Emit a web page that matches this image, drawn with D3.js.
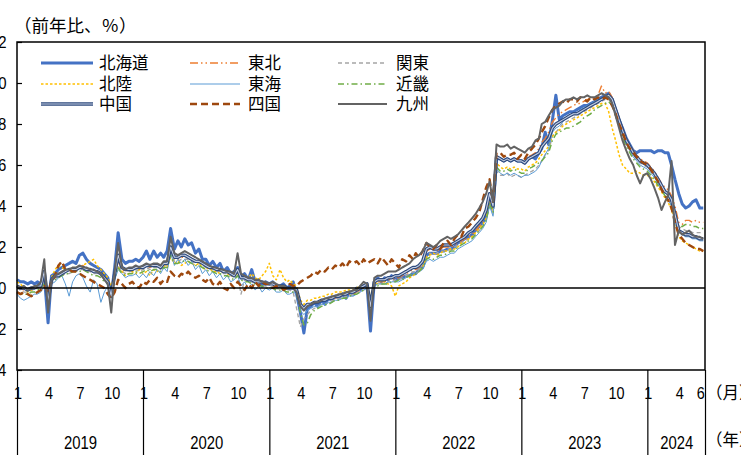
<!DOCTYPE html>
<html>
<head>
<meta charset="utf-8">
<script src="https://cdn.jsdelivr.net/npm/d3@7/dist/d3.min.js"></script>
<style>
  html, body { margin: 0; padding: 0; background: #fff; }
  svg { display: block; }
</style>
</head>
<body>
<svg id="chart" width="741" height="465"></svg>
<script>
// Regional price index, year-on-year change (%), sampled on the 1st, 11th and 21st of each month
const regionNames = ["北海道", "東北", "関東", "北陸", "東海", "近畿", "中国", "四国", "九州"];

const hokkaido = [
  0.4,0.3,0.3, 0.2,0.3,0.2, 0.3,0.2,0.6, -1.7,0.6,0.7, 0.9,1.0,1.1, 1.2,1.3,1.2, 1.6,1.7,1.4, 1.2,1.1,1.0, 0.9,0.7,0.5, -0.4,1.0,2.7, 1.4,1.2,1.3, 1.3,1.4,1.3,
  1.5,1.8,1.4, 1.8,1.5,1.7, 1.5,1.8,2.9, 1.9,2.3,2.0, 2.4,2.1,2.2, 1.7,1.9,1.4, 1.4,1.1,1.3, 1.0,1.2,0.8, 1.0,0.7,0.8, 1.0,0.5,0.7, 0.4,0.9,0.3, 0.4,0.1,0.3,
  0.2,0.3,0.1, 0.1,0.2,0.0, 0.1,0.3,-0.3, -1.2,-2.2,-1.0, -0.9,-0.7,-0.9, -0.6,-0.8,-0.5, -0.6,-0.4,-0.5, -0.3,-0.5,-0.2, -0.3,0.0,-0.1, 0.1,0.1,-2.1, 0.3,0.5,0.3, 0.5,0.4,0.6,
  0.4,0.5,0.5, 0.6,0.6,0.7, 0.7,0.9,1.0, 1.6,1.7,1.7, 1.7,1.8,1.8, 1.9,1.9,2.0, 2.2,2.3,2.4, 2.5,2.6,2.8, 3.0,3.2,3.5, 4.4,3.9,6.3, 6.3,6.2,6.3, 6.2,6.3,6.2,
  6.2,6.1,6.3, 6.4,6.3,6.6, 6.8,7.6,7.0, 8.2,9.4,8.2, 8.4,8.5,8.6, 8.6,8.7,8.8, 8.9,8.9,9.0, 9.1,9.2,9.3, 9.4,9.5,9.2, 8.7,8.2,7.8, 7.3,7.0,6.7, 6.6,6.7,6.7,
  6.7,6.7,6.6, 6.7,6.7,6.6, 6.6,6.0,5.3, 4.6,4.1,3.9, 4.0,4.2,4.3, 3.9,3.9
];
const tohoku = [
  0.1,0.0,-0.1, -0.1,0.0,0.0, 0.1,0.1,0.4, -0.4,0.4,0.5, 0.7,0.8,0.8, 0.9,0.9,1.0, 1.0,1.1,0.9, 0.9,0.8,0.8, 0.7,0.5,0.3, -0.3,0.6,1.3, 0.9,0.8,0.9, 0.9,1.0,0.9,
  1.0,1.1,1.0, 1.1,1.1,1.0, 1.2,1.2,1.9, 1.4,1.4,1.5, 1.5,1.5,1.4, 1.3,1.3,1.2, 1.1,1.0,1.0, 0.9,0.9,0.8, 0.8,0.7,0.6, 0.8,0.5,0.5, 0.4,0.4,0.3, 0.3,0.3,0.2,
  0.2,0.2,0.1, 0.1,0.1,0.0, 0.0,0.0,0.0, -0.8,-1.0,-0.8, -0.8,-0.7,-0.7, -0.6,-0.6,-0.5, -0.5,-0.5,-0.4, -0.4,-0.3,-0.3, -0.3,-0.2,-0.1, 0.0,0.1,-0.8, 0.2,0.3,0.3, 0.3,0.4,0.4,
  0.5,0.5,0.6, 0.7,0.8,0.9, 0.9,1.0,1.2, 1.8,1.9,1.9, 1.8,1.9,2.0, 2.0,2.0,2.1, 2.2,2.3,2.4, 2.5,2.6,2.8, 3.0,3.3,3.7, 4.6,4.0,6.4, 6.3,6.2,6.3, 6.2,6.3,6.2,
  6.2,6.2,6.4, 6.5,6.6,6.8, 7.1,7.3,7.6, 8.1,8.3,8.5, 8.6,8.7,8.8, 8.9,9.0,9.0, 9.1,9.2,9.2, 9.3,9.4,9.85, 9.5,9.6,9.3, 8.8,8.3,7.8, 7.3,7.0,6.7, 6.5,6.3,6.2,
  6.1,5.9,5.7, 5.4,5.1,4.9, 4.8,4.5,4.0, 3.2,3.1,3.3, 3.3,3.2,3.3, 3.2,3.2
];
const kanto = [
  0.0,-0.1,-0.2, -0.2,-0.1,-0.1, 0.0,0.1,0.3, -0.3,0.3,0.4, 0.6,0.6,0.7, 0.7,0.8,0.8, 0.9,0.9,0.8, 0.8,0.7,0.7, 0.6,0.4,0.2, -0.2,0.5,1.1, 0.8,0.7,0.8, 0.8,0.9,0.8,
  0.9,1.0,0.9, 1.0,1.0,0.9, 1.1,1.1,1.7, 1.3,1.3,1.4, 1.4,1.4,1.3, 1.2,1.2,1.1, 1.0,0.9,0.9, 0.8,0.8,0.7, 0.7,0.6,0.5, 0.6,-0.3,0.4, 0.3,0.3,0.2, 0.2,0.1,0.1,
  0.0,0.1,0.0, -0.1,0.0,-0.1, -0.1,-0.2,-1.0, -1.9,-1.5,-1.3, -1.1,-1.0,-0.9, -0.8,-0.8,-0.7, -0.6,-0.6,-0.5, -0.5,-0.4,-0.4, -0.3,-0.2,-0.2, -0.1,0.0,-0.7, 0.1,0.2,0.2, 0.2,0.3,0.3,
  0.4,0.4,0.5, 0.6,0.7,0.8, 0.8,0.9,1.1, 1.6,1.7,1.6, 1.7,1.8,1.8, 1.9,1.9,2.0, 2.1,2.2,2.3, 2.4,2.5,2.6, 2.8,3.0,3.3, 4.1,3.6,5.7, 5.5,5.5,5.6, 5.4,5.5,5.5,
  5.4,5.5,5.6, 5.7,5.8,6.0, 6.2,6.5,6.7, 7.4,7.6,7.8, 8.0,8.1,8.2, 8.3,8.4,8.5, 8.6,8.7,8.8, 8.9,9.0,9.1, 9.2,9.2,9.0, 8.5,8.0,7.6, 7.1,6.8,6.5, 6.3,6.1,6.0,
  5.9,5.7,5.5, 5.2,4.9,4.7, 4.5,4.2,3.7, 3.0,2.9,2.8, 2.8,2.7,2.7, 2.7,2.7
];
const hokuriku = [
  0.3,0.2,0.0, -0.2,-0.1,0.0, 0.1,0.2,0.5, -0.2,0.5,0.9, 1.1,1.0,0.9, 0.8,1.0,0.9, 1.0,1.1,1.2, 1.3,1.4,1.1, 0.9,0.7,0.5, 0.1,0.7,1.0, 0.8,0.6,0.7, 0.8,0.7,0.9,
  0.7,0.8,0.6, 0.9,0.8,1.0, 1.1,1.0,1.5, 1.2,1.3,1.1, 1.2,1.3,1.2, 1.1,1.2,1.0, 0.9,1.0,0.8, 0.8,0.7,0.9, 0.7,0.6,0.6, 0.7,0.5,0.6, 0.5,0.7,0.5, 0.4,0.6,0.8,
  1.2,0.6,0.4, 0.9,0.5,0.3, 0.4,0.2,0.1, -0.6,-0.8,-0.6, -0.6,-0.5,-0.5, -0.4,-0.4,-0.3, -0.3,-0.2,-0.2, -0.2,-0.1,-0.1, -0.1,0.0,0.1, 0.2,0.1,-0.4, 0.3,0.2,0.4, 0.3,0.2,0.1,
  -0.4,0.1,0.2, 0.3,0.5,0.6, 0.7,0.8,1.0, 1.5,1.6,1.7, 1.6,1.7,1.8, 1.8,1.9,1.9, 2.0,2.2,2.2, 2.4,2.5,2.7, 2.9,3.1,3.4, 4.3,3.8,6.1, 5.9,5.8,5.9, 5.8,5.9,5.8,
  5.8,5.7,5.9, 6.0,6.1,6.3, 6.5,6.7,6.9, 7.4,7.6,7.7, 7.9,8.0,8.1, 8.2,8.3,8.4, 8.5,8.6,8.7, 8.8,8.9,9.0, 9.0,8.6,7.8, 7.2,6.5,6.0, 5.8,5.6,5.6, 5.7,5.6,5.5,
  5.5,5.4,5.2, 4.9,4.7,4.4, 4.2,3.8,3.3, 2.5,2.3,2.2, 2.1,2.0,1.9, 1.8,1.8
];
const tokai = [
  -0.3,-0.5,-0.6, -0.5,-0.4,-0.3, -0.3,-0.2,0.1, -0.6,0.2,0.3, 0.5,0.6,0.2, -0.4,0.3,0.6, 0.7,0.5,0.1, -0.2,0.4,0.2, -0.7,-0.2,0.1, -0.5,0.4,0.9, 0.7,0.5,0.6, 0.6,0.7,0.5,
  0.7,0.5,0.8, 0.6,0.9,0.7, 1.0,0.8,1.7, 1.1,1.4,1.2, 1.4,1.1,1.3, 0.9,1.1,0.7, 0.9,0.6,0.8, 0.5,0.7,0.4, 0.6,0.3,0.4, 0.6,0.1,0.3, 0.0,0.2,-0.1, 0.1,-0.2,0.0,
  -0.1,0.0,-0.2, -0.2,-0.1,-0.3, -0.3,-0.2,-0.3, -1.1,-1.3,-1.1, -1.0,-0.9,-0.9, -0.8,-0.8,-0.7, -0.7,-0.6,-0.6, -0.5,-0.5,-0.4, -0.4,-0.3,-0.2, -0.1,0.0,-0.8, 0.1,0.2,0.2, 0.2,0.3,0.3,
  0.3,0.3,0.4, 0.5,0.6,0.7, 0.7,0.8,0.9, 1.3,1.4,1.3, 1.4,1.5,1.5, 1.6,1.7,1.7, 1.9,2.0,2.1, 2.2,2.3,2.5, 2.7,2.9,3.2, 4.0,3.5,5.8, 5.6,5.5,5.6, 5.5,5.6,5.5,
  5.4,5.5,5.5, 5.6,5.7,5.9, 6.2,6.5,6.8, 7.6,7.8,7.9, 8.1,8.3,8.4, 8.5,8.5,8.7, 8.8,8.9,9.0, 9.1,9.2,9.2, 9.3,9.4,9.1, 8.6,8.0,7.5, 7.0,6.7,6.4, 6.2,6.0,5.9,
  5.8,5.6,5.4, 5.1,4.8,4.5, 4.3,4.0,3.4, 2.7,2.6,2.5, 2.5,2.4,2.4, 2.3,2.3
];
const kinki = [
  -0.2,-0.3,-0.3, -0.3,-0.2,-0.2, -0.1,0.0,0.2, -0.4,0.3,0.4, 0.5,0.6,0.7, 0.7,0.8,0.8, 0.8,0.9,0.8, 0.7,0.6,0.6, 0.5,0.3,0.2, -0.3,0.5,1.0, 0.7,0.6,0.7, 0.7,0.8,0.7,
  0.8,0.9,0.8, 0.9,0.9,0.8, 1.0,1.0,1.6, 1.2,1.2,1.3, 1.3,1.3,1.2, 1.1,1.1,1.0, 0.9,0.8,0.8, 0.7,0.7,0.6, 0.6,0.5,0.4, 0.6,0.4,0.3, 0.3,0.2,0.2, 0.1,0.1,0.0,
  0.0,0.0,-0.1, -0.1,-0.1,-0.2, -0.2,-0.2,-0.3, -1.2,-1.8,-1.7, -1.3,-1.1,-1.0, -0.9,-0.8,-0.8, -0.7,-0.6,-0.6, -0.5,-0.5,-0.4, -0.3,-0.3,-0.2, -0.1,0.0,-0.7, 0.1,0.1,0.2, 0.2,0.2,0.3,
  0.3,0.4,0.4, 0.5,0.6,0.7, 0.7,0.8,1.0, 1.4,1.5,1.4, 1.5,1.6,1.6, 1.7,1.8,1.8, 2.0,2.1,2.2, 2.3,2.4,2.6, 2.8,3.0,3.3, 4.1,3.7,5.9, 5.7,5.7,5.8, 5.7,5.8,5.7,
  5.6,5.6,5.8, 5.9,6.0,6.1, 6.2,6.4,6.6, 7.2,7.5,7.6, 7.7,7.8,7.8, 7.9,8.0,8.1, 8.3,8.4,8.5, 8.7,8.8,8.9, 9.0,9.1,8.9, 8.4,7.9,7.4, 6.9,6.6,6.3, 6.1,5.9,5.8,
  5.7,5.5,5.3, 5.0,4.8,4.5, 4.3,4.1,3.6, 3.0,3.0,3.1, 3.1,3.0,3.0, 2.9,2.9
];
const chugoku = [
  0.1,0.0,0.0, -0.1,0.0,0.0, 0.1,0.1,0.8, -0.6,0.4,0.6, 0.6,0.7,0.8, 0.9,0.9,0.9, 1.0,1.0,0.9, 0.9,0.8,0.8, 0.7,0.5,0.3, -0.4,0.7,1.6, 1.0,0.9,0.9, 0.9,1.0,1.0,
  1.0,1.1,1.1, 1.1,1.1,1.0, 1.2,1.2,2.0, 1.5,1.5,1.6, 1.6,1.5,1.4, 1.3,1.3,1.2, 1.1,1.0,1.0, 0.9,0.9,0.8, 0.8,0.7,0.6, 0.9,0.5,0.5, 0.4,0.4,0.3, 0.3,0.3,0.2,
  0.2,0.2,0.1, 0.1,0.1,0.0, 0.0,0.0,-0.1, -0.8,-1.0,-0.8, -0.8,-0.7,-0.7, -0.6,-0.6,-0.5, -0.5,-0.4,-0.4, -0.3,-0.3,-0.2, -0.2,-0.1,0.0, 0.1,0.2,-0.9, 0.3,0.4,0.4, 0.4,0.5,0.5,
  0.6,0.6,0.7, 0.8,0.9,1.0, 1.0,1.1,1.3, 1.9,2.0,1.9, 1.9,2.0,2.1, 2.1,2.1,2.2, 2.3,2.4,2.5, 2.7,2.8,3.0, 3.2,3.4,3.8, 4.6,4.0,6.4, 6.3,6.2,6.3, 6.2,6.3,6.2,
  6.2,6.1,6.3, 6.4,6.5,6.6, 6.9,7.1,7.3, 7.8,8.0,8.1, 8.2,8.3,8.4, 8.5,8.5,8.6, 8.7,8.8,8.9, 9.0,9.1,9.2, 9.3,9.4,9.2, 8.7,8.2,7.7, 7.2,6.9,6.6, 6.4,6.2,6.1,
  6.0,5.8,5.6, 5.3,5.0,4.7, 4.6,4.3,3.6, 2.8,2.7,2.6, 2.6,2.5,2.5, 2.4,2.4
];
const shikoku = [
  -0.2,-0.3,-0.2, -0.3,-0.4,-0.3, -0.2,-0.1,0.1, -0.2,0.3,0.6, 1.1,1.3,0.9, 0.9,0.8,0.8, 0.7,0.6,0.5, 0.4,0.3,0.2, 0.1,0.0,-0.3, -0.5,-0.2,0.4, 0.2,0.0,0.2, 0.3,0.1,0.0,
  0.3,0.2,0.4, 0.3,0.5,0.2, 0.4,0.3,0.8, 0.6,0.5,0.7, 0.6,0.8,0.6, 0.5,0.6,0.4, 0.3,0.5,0.2, 0.1,0.3,0.0, -0.1,0.2,0.0, 0.3,0.1,-0.1, 0.2,0.0,0.3, 0.1,0.3,0.2,
  0.2,0.0,0.1, 0.1,-0.1,0.0, 0.2,0.1,0.1, 0.3,0.4,0.5, 0.6,0.8,0.7, 0.9,0.8,1.0, 0.9,1.1,1.0, 1.2,1.0,1.3, 1.2,1.3,1.1, 1.4,1.2,1.3, 1.4,1.2,1.5, 1.3,1.1,1.4,
  1.2,1.0,1.4, 1.3,1.6,1.4, 1.7,1.5,1.8, 2.2,2.0,1.9, 2.1,1.9,2.2, 2.3,2.1,2.4, 2.6,2.5,2.9, 3.0,3.2,3.4, 3.7,4.3,4.9, 5.3,4.2,6.6, 6.6,6.4,6.5, 6.5,6.6,6.3,
  6.5,6.3,6.6, 6.8,7.0,7.3, 7.6,7.9,8.3, 8.7,8.9,9.0, 9.1,9.0,9.2, 9.2,9.1,9.3, 9.2,9.1,9.3, 9.2,9.3,9.2, 9.3,9.2,8.9, 8.5,8.0,7.6, 7.1,6.8,6.6, 6.4,6.2,6.1,
  6.0,5.8,5.5, 5.2,4.8,4.5, 4.3,3.9,3.2, 2.6,2.4,2.2, 2.1,2.0,1.9, 1.9,1.8
];
const kyushu = [
  0.1,0.0,0.1, -0.1,0.0,0.1, 0.1,0.3,1.4, -1.2,0.4,0.6, 0.7,0.8,0.9, 0.9,1.0,1.0, 1.1,1.0,1.0, 0.9,0.9,0.8, 0.7,0.4,0.2, -1.2,0.8,2.2, 1.0,0.9,1.0, 1.0,1.1,1.0,
  1.1,1.2,1.1, 1.2,1.2,1.1, 1.3,1.3,2.5, 1.7,1.6,1.7, 1.8,1.7,1.6, 1.5,1.4,1.3, 1.2,1.1,1.0, 1.0,0.9,0.9, 0.8,0.8,0.7, 1.7,0.7,0.6, 0.5,0.5,0.4, 0.4,0.3,0.3,
  0.2,0.3,0.2, 0.1,0.1,0.0, 0.0,0.0,-0.2, -0.9,-1.1,-0.9, -0.8,-0.7,-0.7, -0.6,-0.5,-0.5, -0.4,-0.4,-0.3, -0.3,-0.2,-0.2, -0.1,-0.1,0.1, 0.3,0.2,-1.6, 0.5,0.6,0.6, 0.7,0.8,0.8,
  0.8,0.9,1.0, 1.1,1.2,1.4, 1.5,1.6,1.8, 2.2,2.1,2.0, 2.1,2.3,2.4, 2.5,2.4,2.5, 2.6,2.8,3.0, 3.2,3.4,3.6, 3.9,4.2,4.6, 5.2,4.2,7.0, 6.9,6.9,7.0, 6.8,6.9,6.8,
  6.7,6.6,6.8, 6.9,7.2,7.3, 8.0,8.1,8.4, 8.7,8.8,8.9, 9.1,9.2,9.2, 9.3,9.2,9.3, 9.3,9.4,9.3, 9.3,9.4,9.5, 9.4,9.3,9.0, 8.4,7.8,7.2, 6.7,6.3,6.0, 5.5,5.1,5.5,
  5.6,5.3,4.9, 4.4,3.8,4.2, 4.5,6.2,2.1, 2.8,2.6,2.7, 2.8,2.6,2.5, 2.5,2.4
];

const seriesValues = [hokkaido, tohoku, kanto, hokuriku, tokai, kinki, chugoku, shikoku, kyushu];

// Axis labels
const yTickValues = [-4, -2, 0, 2, 4, 6, 8, 10, 12];
const monthTickLabels = [1, 4, 7, 10];
const yearLabels = ["2019", "2020", "2021", "2022", "2023", "2024"];
const monthUnitLabel = "（月）";
const yearUnitLabel = "（年）";
const titleText = "（前年比、％）";

// Sampling calendar
const sampleDays = [1, 11, 21];
const firstSample = new Date(2019, 0, 1);
const lastSample = new Date(2024, 5, 11);
const axisEnd = new Date(2024, 5, 16);

const dates = [];
for (let yr = 2019; yr <= 2024; yr++) {
  for (let mo = 0; mo < 12; mo++) {
    for (const d of sampleDays) {
      const dt = new Date(yr, mo, d);
      if (dt <= lastSample) dates.push(dt);
    }
  }
}

// Styles per region
const styles = [
  { color: "#4472C4", width: 3,   dash: null },
  { color: "#ED7D31", width: 1.4, dash: "8,3,1.5,3,1.5,3" },
  { color: "#A5A5A5", width: 1.4, dash: "4,3" },
  { color: "#FFC000", width: 1.5, dash: "2.5,2" },
  { color: "#5B9BD5", width: 1,   dash: null },
  { color: "#70AD47", width: 1.5, dash: "6,3,1.5,3" },
  { color: "#2E4A7D", width: 3.4, dash: null, inner: "#C5CFE3", innerWidth: 1.1 },
  { color: "#9E480E", width: 2.4, dash: "7,4" },
  { color: "#636363", width: 2,   dash: null }
];

const plot = { left: 17, right: 705, top: 42, bottom: 370 };
const numFont = "'Liberation Sans', Arial, sans-serif";
const cjkFont = "'Noto Sans CJK JP', 'Noto Sans', sans-serif";

const svg = d3.select("#chart");

const x = d3.scaleTime().domain([firstSample, axisEnd]).range([plot.left, plot.right]);
const y = d3.scaleLinear().domain([-4, 12]).range([plot.bottom, plot.top]);

// Series lines
const line = d3.line()
  .x((d, i) => x(dates[i]))
  .y(d => y(d));

const linesG = svg.append("g");
seriesValues.forEach((vals, k) => {
  const s = styles[k];
  linesG.append("path")
    .datum(vals)
    .attr("d", line)
    .attr("fill", "none")
    .attr("stroke", s.color)
    .attr("stroke-width", s.width)
    .attr("stroke-linejoin", "round")
    .attr("stroke-dasharray", s.dash);
  if (s.inner) {
    linesG.append("path")
      .datum(vals)
      .attr("d", line)
      .attr("fill", "none")
      .attr("stroke", s.inner)
      .attr("stroke-width", s.innerWidth)
      .attr("stroke-linejoin", "round");
  }
});

// Zero line
svg.append("line")
  .attr("x1", plot.left).attr("x2", plot.right)
  .attr("y1", y(0)).attr("y2", y(0))
  .attr("stroke", "#000").attr("stroke-width", 1.5);

// Plot frame
svg.append("rect")
  .attr("x", plot.left).attr("y", plot.top)
  .attr("width", plot.right - plot.left).attr("height", plot.bottom - plot.top)
  .attr("fill", "none").attr("stroke", "#000").attr("stroke-width", 1.5);

// Y axis (ticks pointing inward, labels to the left)
const yAxis = d3.axisLeft(y).tickValues(yTickValues).tickSize(-5).tickPadding(12).tickFormat(d3.format("d"));
const yG = svg.append("g").attr("transform", `translate(${plot.left},0)`).call(yAxis);
yG.select(".domain").remove();
yG.selectAll(".tick line").attr("stroke", "#000").attr("stroke-width", 1.2);
yG.selectAll(".tick text")
  .attr("font-family", numFont).attr("font-size", 17).attr("fill", "#000")
  .attr("transform", "scale(0.88,1)");

// Month labels
const monthDates = [];
for (let yr = 2019; yr <= 2024; yr++) {
  for (const m of monthTickLabels) {
    const dt = new Date(yr, m - 1, 1);
    if (dt <= lastSample) monthDates.push(dt);
  }
}
monthDates.push(new Date(2024, 5, 1));
const monthAxis = d3.axisBottom(x).tickValues(monthDates).tickSize(0).tickPadding(0)
  .tickFormat(d => d.getMonth() + 1);
const mG = svg.append("g").attr("transform", `translate(0,${plot.bottom})`).call(monthAxis);
mG.select(".domain").remove();
mG.selectAll(".tick text")
  .attr("x", 0.5).attr("y", 23).attr("dy", "0.35em")
  .attr("font-family", numFont).attr("font-size", 17).attr("fill", "#000")
  .attr("transform", "scale(0.85,1)");

// Year separators
const yearStarts = yearLabels.map(yl => new Date(+yl, 0, 1)).concat([axisEnd]);
const sepAxis = d3.axisBottom(x).tickValues(yearStarts).tickSize(85).tickFormat("");
const sG = svg.append("g").attr("transform", `translate(0,${plot.bottom})`).call(sepAxis);
sG.select(".domain").remove();
sG.selectAll(".tick line").attr("stroke", "#000").attr("stroke-width", 1.2);

// Year labels centred in each year span
const yearMids = yearLabels.map((yl, i) => {
  const a = yearStarts[i], b = yearStarts[i + 1];
  return new Date((a.getTime() + b.getTime()) / 2);
});
const yearAxis = d3.axisBottom(x).tickValues(yearMids).tickSize(0).tickPadding(0)
  .tickFormat((d, i) => yearLabels[i]);
const yrG = svg.append("g").attr("transform", `translate(0,${plot.bottom})`).call(yearAxis);
yrG.select(".domain").remove();
yrG.selectAll(".tick text")
  .attr("y", 73).attr("dy", "0.35em")
  .attr("font-family", numFont).attr("font-size", 17.5).attr("fill", "#000")
  .attr("transform", "scale(0.85,1)");

// Unit labels on the right
svg.append("text").attr("x", 706).attr("y", 393).attr("dy", "0.35em")
  .attr("font-family", cjkFont).attr("font-size", 16.5).text(monthUnitLabel);
svg.append("text").attr("x", 706).attr("y", 440).attr("dy", "0.35em")
  .attr("font-family", cjkFont).attr("font-size", 16.5).text(yearUnitLabel);

// Title
svg.append("text").attr("x", 14).attr("y", 26).attr("dy", "0.35em")
  .attr("font-family", cjkFont).attr("font-size", 17.5).text(titleText);

// Legend
const legendCols = [{ x1: 41, x2: 93, tx: 99 }, { x1: 190, x2: 240, tx: 248 }, { x1: 338, x2: 387, tx: 396 }];
const legendRows = [63, 84, 104];
const legendG = svg.append("g");
regionNames.forEach((name, k) => {
  const col = legendCols[k % 3], rowY = legendRows[Math.floor(k / 3)];
  const s = styles[k];
  legendG.append("line")
    .attr("x1", col.x1).attr("x2", col.x2).attr("y1", rowY).attr("y2", rowY)
    .attr("stroke", s.color).attr("stroke-width", s.width)
    .attr("stroke-dasharray", s.dash);
  if (s.inner) {
    legendG.append("line")
      .attr("x1", col.x1).attr("x2", col.x2).attr("y1", rowY).attr("y2", rowY)
      .attr("stroke", s.inner).attr("stroke-width", s.innerWidth);
  }
  legendG.append("text")
    .attr("x", col.tx).attr("y", rowY).attr("dy", "0.35em")
    .attr("font-family", cjkFont).attr("font-size", 16.5).attr("fill", "#000")
    .text(name);
});
</script>
</body>
</html>
